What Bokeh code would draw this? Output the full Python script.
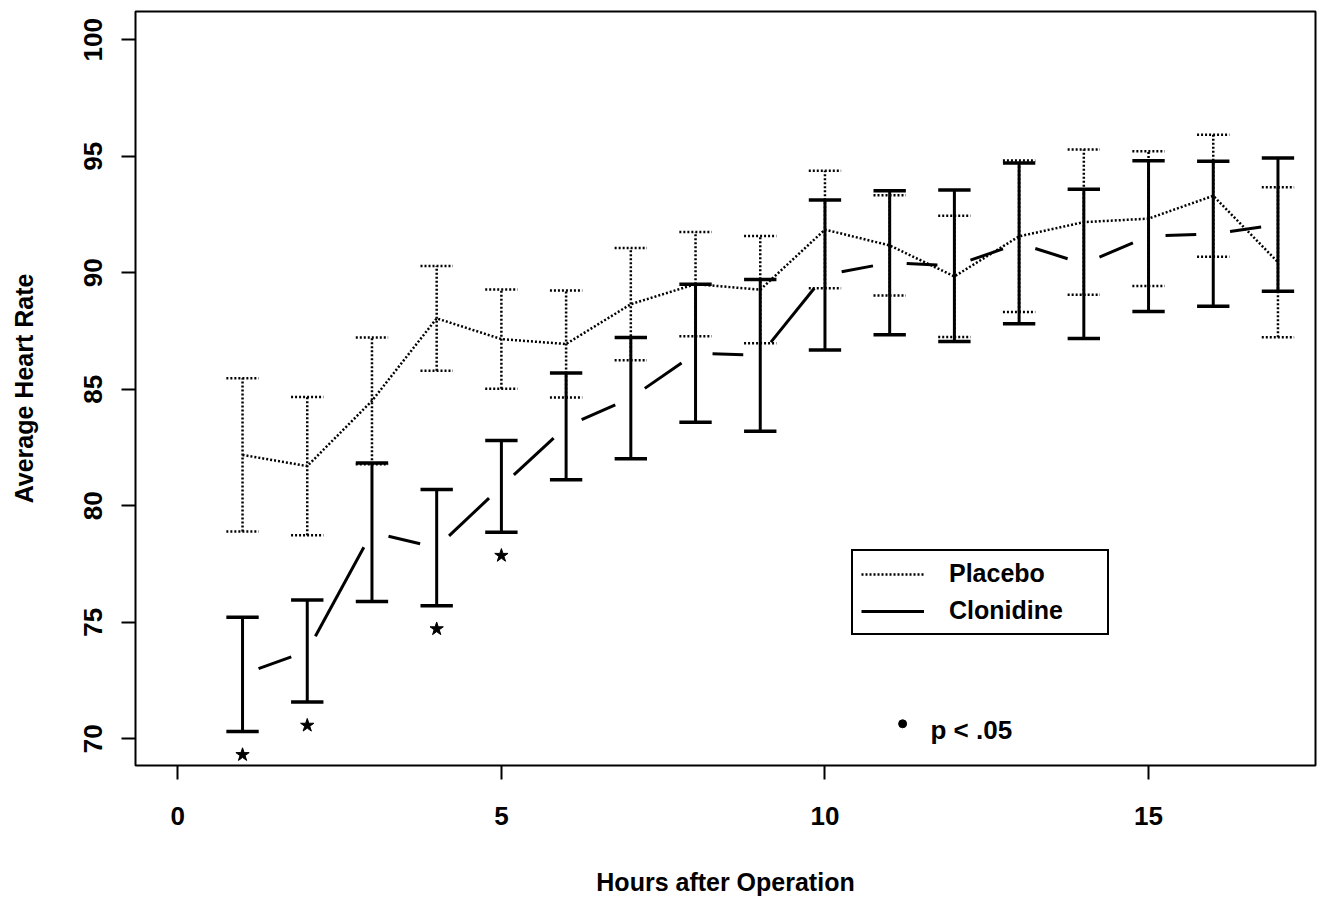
import numpy as np
from bokeh.plotting import figure
from bokeh.models import Range1d, FixedTicker, Legend, LegendItem, Label
from bokeh.embed import file_html
from bokeh.resources import INLINE

# ---- data ----
hours = list(range(1, 18))
placebo_mean = [82.18, 81.70, 84.50, 88.04, 87.15, 86.94, 88.65, 89.51, 89.27,
                91.85, 91.17, 89.84, 91.56, 92.17, 92.32, 93.30, 90.45]
placebo_se = [3.29, 2.97, 2.72, 2.25, 2.13, 2.30, 2.41, 2.24, 2.30,
              2.52, 2.15, 2.60, 3.25, 3.12, 2.89, 2.62, 3.22]
clon_mean = [72.76, 73.76, 78.86, 78.20, 80.83, 83.40, 84.62, 86.54, 86.45,
             89.90, 90.43, 90.30, 91.26, 90.38, 91.57, 91.67, 92.06]
clon_se = [2.45, 2.19, 2.97, 2.49, 1.97, 2.29, 2.60, 2.96, 3.26,
           3.22, 3.09, 3.25, 3.45, 3.20, 3.23, 3.11, 2.86]
sig_hours = [1, 2, 4, 5]
x_ticks = [0, 5, 10, 15]
y_ticks = [70, 75, 80, 85, 90, 95, 100]

FONT = "Liberation Sans"
X0, X1 = -0.654, 17.58
Y0, Y1 = 68.85, 101.21
FW, FH = 1180, 754

p = figure(frame_width=FW, frame_height=FH, output_backend="svg", toolbar_location=None,
           x_range=Range1d(X0, X1), y_range=Range1d(Y0, Y1),
           min_border_left=135, min_border_right=2, min_border_top=11, min_border_bottom=132)
p.grid.visible = False
p.outline_line_color = "black"
p.outline_line_width = 2
p.outline_line_alpha = 1
p.background_fill_color = "white"
p.border_fill_color = "white"

for ax in (p.xaxis[0], p.yaxis[0]):
    ax.axis_line_color = None
    ax.major_tick_line_color = "black"
    ax.major_tick_line_width = 2
    ax.major_tick_out = 14
    ax.major_tick_in = 0
    ax.minor_tick_line_color = None
    ax.major_label_text_font = FONT
    ax.major_label_text_font_style = "bold"
    ax.major_label_text_font_size = "26px"
    ax.major_label_text_color = "black"
    ax.axis_label_text_font = FONT
    ax.axis_label_text_font_style = "bold"
    ax.axis_label_text_font_size = "25px"
    ax.axis_label_text_color = "black"

p.xaxis.ticker = FixedTicker(ticks=x_ticks)
p.yaxis.ticker = FixedTicker(ticks=y_ticks)
p.xaxis.axis_label = "Hours after Operation"
p.yaxis.axis_label = "Average Heart Rate"
p.yaxis.major_label_orientation = "vertical"
p.xaxis.major_label_standoff = 27
p.xaxis.axis_label_standoff = 40
p.yaxis.major_label_standoff = 19
p.yaxis.axis_label_standoff = 44

h = np.array(hours, dtype=float)
pm = np.array(placebo_mean)
ps = np.array(placebo_se)
cm = np.array(clon_mean)
cs = np.array(clon_se)
cap = 0.25

# Placebo: dotted line + dotted error bars
DOT = dict(line_color="black", line_width=2.5, line_dash="2 2")
pl = p.line(h, pm, **DOT)
p.segment(h, pm - ps, h, pm + ps, **DOT)
p.segment(h - cap, pm + ps, h + cap, pm + ps, **DOT)
p.segment(h - cap, pm - ps, h + cap, pm - ps, **DOT)

# Clonidine: solid line interrupted near each point, solid error bars
sx = FW / (X1 - X0)
sy = FH / (Y1 - Y0)
gap = 17.0
dx = np.diff(h)
dy = np.diff(cm)
L = np.hypot(dx * sx, dy * sy)
f = gap / L
cr = p.segment(h[:-1] + f * dx, cm[:-1] + f * dy, h[1:] - f * dx, cm[1:] - f * dy,
               line_color="black", line_width=3)
p.segment(h, cm - cs, h, cm + cs, line_color="black", line_width=3)
p.segment(h - cap, cm + cs, h + cap, cm + cs, line_color="black", line_width=3.5)
p.segment(h - cap, cm - cs, h + cap, cm - cs, line_color="black", line_width=3.5)

# significance markers below clonidine bars
sig = np.array(sig_hours)
sig_y = cm[sig - 1] - cs[sig - 1] - 1.0
p.scatter(sig, sig_y, marker="star", size=14, fill_color="black", line_color="black")

# legend
legend = Legend(items=[LegendItem(label="Placebo", renderers=[pl]),
                       LegendItem(label="Clonidine", renderers=[cr])],
                location=(716, 130), orientation="vertical")
legend.border_line_color = "black"
legend.border_line_width = 2
legend.border_line_alpha = 1
legend.background_fill_color = "white"
legend.background_fill_alpha = 1
legend.padding = 8
legend.spacing = 8
legend.margin = 0
legend.glyph_width = 63
legend.glyph_height = 28
legend.label_height = 28
legend.label_width = 150
legend.label_standoff = 25
legend.label_text_font = FONT
legend.label_text_font_style = "bold"
legend.label_text_font_size = "25px"
legend.label_text_color = "black"
legend.label_text_baseline = "middle"
p.add_layout(legend, "center")

# "* p < .05" note
p.scatter([11.2], [70.64], marker="circle", size=8, fill_color="black", line_color="black")
p.add_layout(Label(x=11.63, y=70.36, text="p < .05", text_font=FONT, text_font_style="bold",
                   text_font_size="26px", text_color="black",
                   text_baseline="middle", text_align="left"))

open("out.html", "w").write(file_html(p, INLINE))
